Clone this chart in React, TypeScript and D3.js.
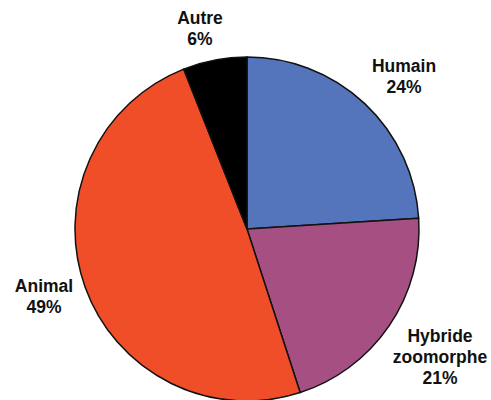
import React, { useEffect, useRef } from 'react'
import * as d3 from 'd3'

const categories = ['Humain', 'Hybride zoomorphe', 'Animal', 'Autre']
const shares = [24, 21, 49, 6]
const colors = ['#5474BC', '#A64F83', '#F04D29', '#000000']

// label anchor points (centre of first line baseline)
const labelX = [404, 440, 44, 200]
const labelY = [72, 342, 292, 24]

function drawPie(svgEl: SVGSVGElement) {
    const svg = d3.select(svgEl)
    svg.selectAll('*').remove()

    const cx = 247
    const cy = 229
    const r = 172

    const data = categories.map((c, i) => ({ name: c, value: shares[i], color: colors[i] }))

    const pie = d3.pie<any>().sort(null).value(d => d.value)
    const arc = d3.arc<any>().innerRadius(0).outerRadius(r)

    const g = svg.append('g').attr('transform', `translate(${cx},${cy})`)

    g.selectAll('path')
        .data(pie(data))
        .enter()
        .append('path')
        .attr('d', arc)
        .attr('fill', d => d.data.color)
        .attr('stroke', '#111')
        .attr('stroke-width', 1.5)
        .attr('stroke-linejoin', 'round')

    // labels
    data.forEach((d, i) => {
        const words = d.name.split(' ')
        const lines = [...words, d.value + '%']
        const t = svg.append('text')
            .attr('text-anchor', 'middle')
            .attr('font-family', 'Liberation Sans, Arial, sans-serif')
            .attr('font-weight', 'bold')
            .attr('font-size', 17.5)
            .attr('fill', '#111')
        lines.forEach((line, j) => {
            t.append('tspan')
                .attr('x', labelX[i])
                .attr('y', labelY[i] + j * 21)
                .text(line)
        })
    })
}

export default function App() {
    const ref = useRef<SVGSVGElement>(null)

    useEffect(() => {
        if (ref.current) drawPie(ref.current)
    }, [])

    return (
        <svg ref={ref} width={491} height={400}
            style={{ position: 'absolute', left: 0, top: 0, background: '#fff' }} />
    )
}
